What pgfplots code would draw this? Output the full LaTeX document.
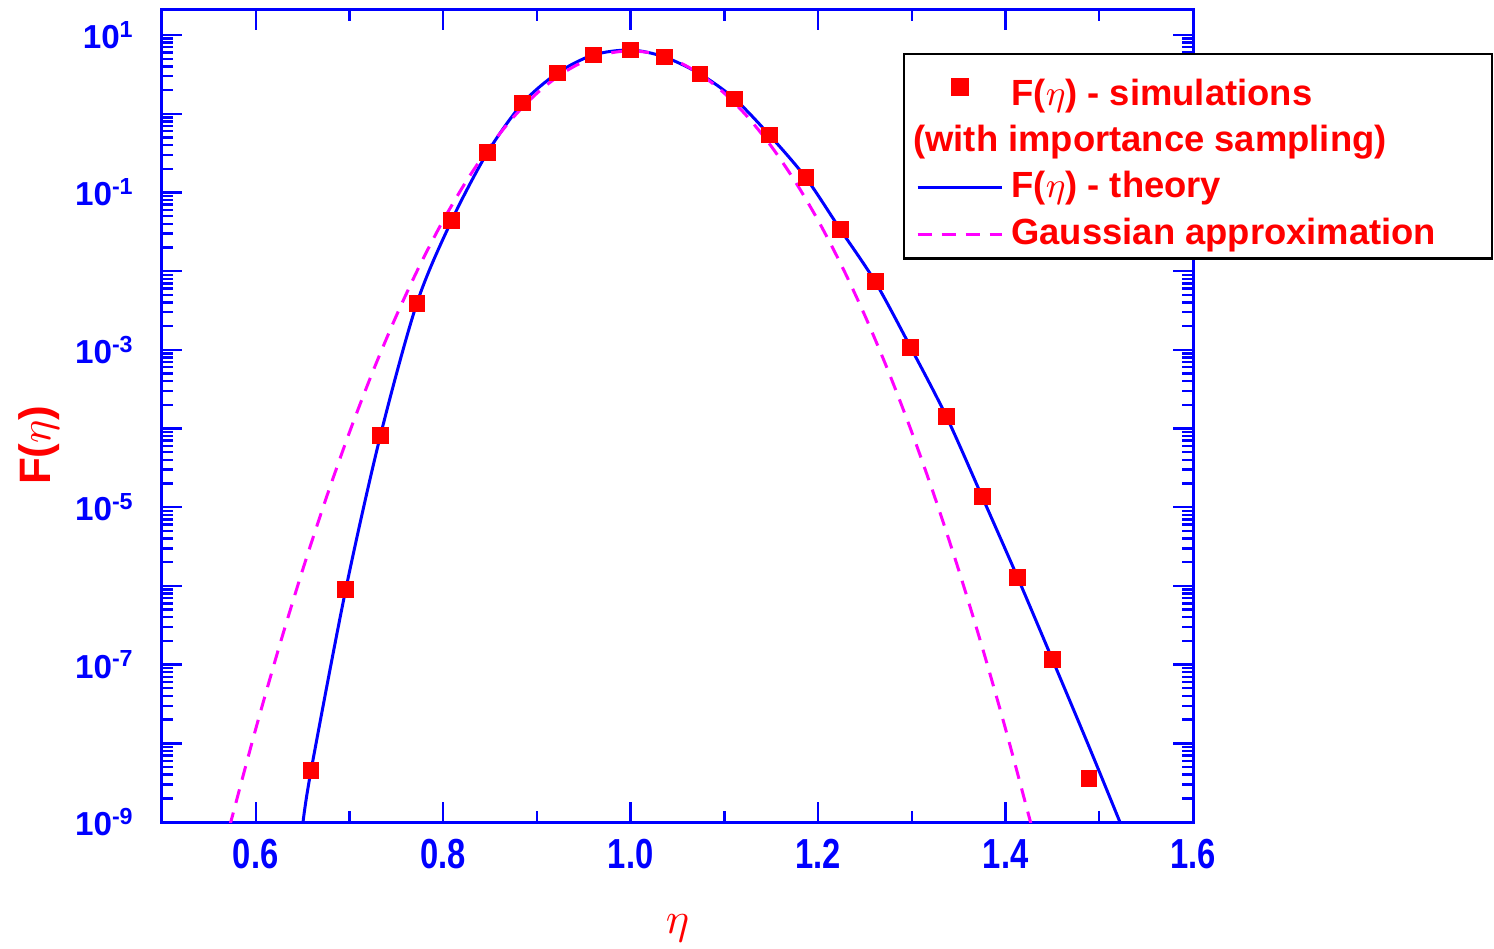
\documentclass[border=0pt]{standalone}
\usepackage{pgfplots}
\pgfplotsset{compat=1.18}
\usepackage{fontspec}
\setmainfont{Liberation Sans}
\usepackage{graphicx}
\definecolor{myblue}{RGB}{0,0,255}
\definecolor{myred}{RGB}{255,0,0}
\definecolor{mymag}{RGB}{255,0,255}

\pgfplotsset{
  lineleg/.style={legend image code/.code={\draw[##1] (0cm,0cm) -- (0.74cm,0cm);}},
  markleg/.style={legend image code/.code={\draw[mark repeat=2,mark phase=2,##1] plot coordinates {(0cm,0cm) (0.37cm,0cm) (0.74cm,0cm)};}},
}

\pgfplotstableread{
x y
0.659 4.5e-9
0.696 8.95e-7
0.733 8.1e-5
0.772 3.92e-3
0.809 0.0439
0.847 0.318
0.885 1.37
0.922 3.29
0.960 5.57
1.000 6.45
1.036 5.26
1.074 3.20
1.111 1.54
1.148 0.537
1.187 0.153
1.224 0.0334
1.261 7.3e-3
1.299 1.06e-3
1.337 1.41e-4
1.375 1.36e-5
1.413 1.27e-6
1.450 1.16e-7
1.489 3.56e-9
}\simdata

\pgfplotstableread{
x y
0.6505 1.0e-9
0.659 4.5e-9
0.696 8.95e-7
0.733 8.1e-5
0.772 3.92e-3
0.809 0.0439
0.847 0.318
0.885 1.37
0.922 3.29
0.960 5.57
1.000 6.45
1.036 5.26
1.074 3.20
1.111 1.54
1.148 0.537
1.187 0.153
1.224 0.0334
1.261 7.3e-3
1.299 1.06e-3
1.337 1.41e-4
1.375 1.36e-5
1.413 1.27e-6
1.450 1.16e-7
1.489 9.1e-9
1.522 1.0e-9
}\theory

\pgfplotstableread{
x y
0.5734 1.0e-9
0.575 1.178e-9
0.600 1.521e-8
0.625 1.680e-7
0.650 1.590e-6
0.675 1.288e-5
0.700 8.944e-5
0.725 5.316e-4
0.750 2.706e-3
0.775 1.180e-2
0.800 4.406e-2
0.825 0.1409
0.850 0.3859
0.875 0.9049
0.900 1.818
0.925 3.127
0.950 4.607
0.975 5.812
1.000 6.281
1.025 5.812
1.050 4.607
1.075 3.127
1.100 1.818
1.125 0.9049
1.150 0.3859
1.175 0.1409
1.200 4.406e-2
1.225 1.180e-2
1.250 2.706e-3
1.275 5.316e-4
1.300 8.944e-5
1.325 1.288e-5
1.350 1.590e-6
1.375 1.680e-7
1.400 1.521e-8
1.425 1.178e-9
1.4266 1.0e-9
}\gauss

\begin{document}
\begin{tikzpicture}
\begin{axis}[
  scale only axis,
  width=257.75pt, height=203pt,
  xmin=0.5, xmax=1.6,
  ymode=log, ymin=1e-9, ymax=20.8,
  xtick={0.6,0.8,1.0,1.2,1.4,1.6},
  xticklabels={\scalebox{0.78}[1]{0.6},\scalebox{0.78}[1]{0.8},\scalebox{0.78}[1]{1.0},\scalebox{0.78}[1]{1.2},\scalebox{0.78}[1]{1.4},\scalebox{0.78}[1]{1.6}},
  minor xtick={0.5,0.7,0.9,1.1,1.3,1.5},
  ytickten={-9,-8,...,1},
  yticklabels={10\textsuperscript{-9},{},10\textsuperscript{-7},{},10\textsuperscript{-5},{},10\textsuperscript{-3},{},10\textsuperscript{-1},{},10\textsuperscript{1}},
  xticklabel style={font=\fontsize{10.5}{12}\selectfont\bfseries, text=myblue, yshift=-0.75pt},
  yticklabel style={font=\fontsize{8.3}{10}\selectfont\bfseries, text=myblue, xshift=-3.3pt},
  axis line style={myblue, line width=0.75pt},
  tick style={myblue, line width=0.6pt},
  major tick length=5pt,
  minor tick length=2.7pt,
  tick align=inside,
  xlabel={$\eta$},
  ylabel={\bfseries F($\eta$)},
  label style={font=\fontsize{11}{13}\selectfont, text=myred},
  xlabel style={at={(rel axis cs:0.5,-0.1305)}, anchor=center, inner sep=0pt},
  ylabel style={at={(rel axis cs:-0.1193,0.464)}, anchor=center, inner sep=0pt},
  legend style={at={(rel axis cs:0.7187,0.947)}, anchor=north west, draw=black, line width=0.6pt, fill=white,
    font=\fontsize{9.1}{11}\selectfont\bfseries, text=myred, inner xsep=3pt, inner ysep=0pt, row sep=-0.5pt, cells={anchor=west}},
  legend cell align=left,
  clip=true,
]
\addplot[only marks, mark=square*, mark size=1.9pt, color=myred, markleg]
  table[x=x,y=y] {\simdata};
\addlegendentry{\rule{0pt}{10.75pt}F($\eta$) - simulations}
\addlegendimage{empty legend}
\addlegendentry{\hspace*{-24.5pt}(with importance sampling)}
\addplot[myblue, line width=0.75pt, smooth, mark=none, lineleg]
  table[x=x,y=y] {\theory};
\addlegendentry{F($\eta$) - theory}
\addplot[mymag, line width=0.75pt, smooth, mark=none, dash pattern=on 3.5pt off 2.5pt, lineleg]
  table[x=x,y=y] {\gauss};
\addlegendentry{\raisebox{0pt}[\height][0pt]{Gaussian approximation}\hspace*{9pt}}
\end{axis}
\path (current axis.south west) ++(-40.5pt,-31.75pt);
\path (current axis.north east) ++(75.25pt,2.5pt);
\end{tikzpicture}
\end{document}
